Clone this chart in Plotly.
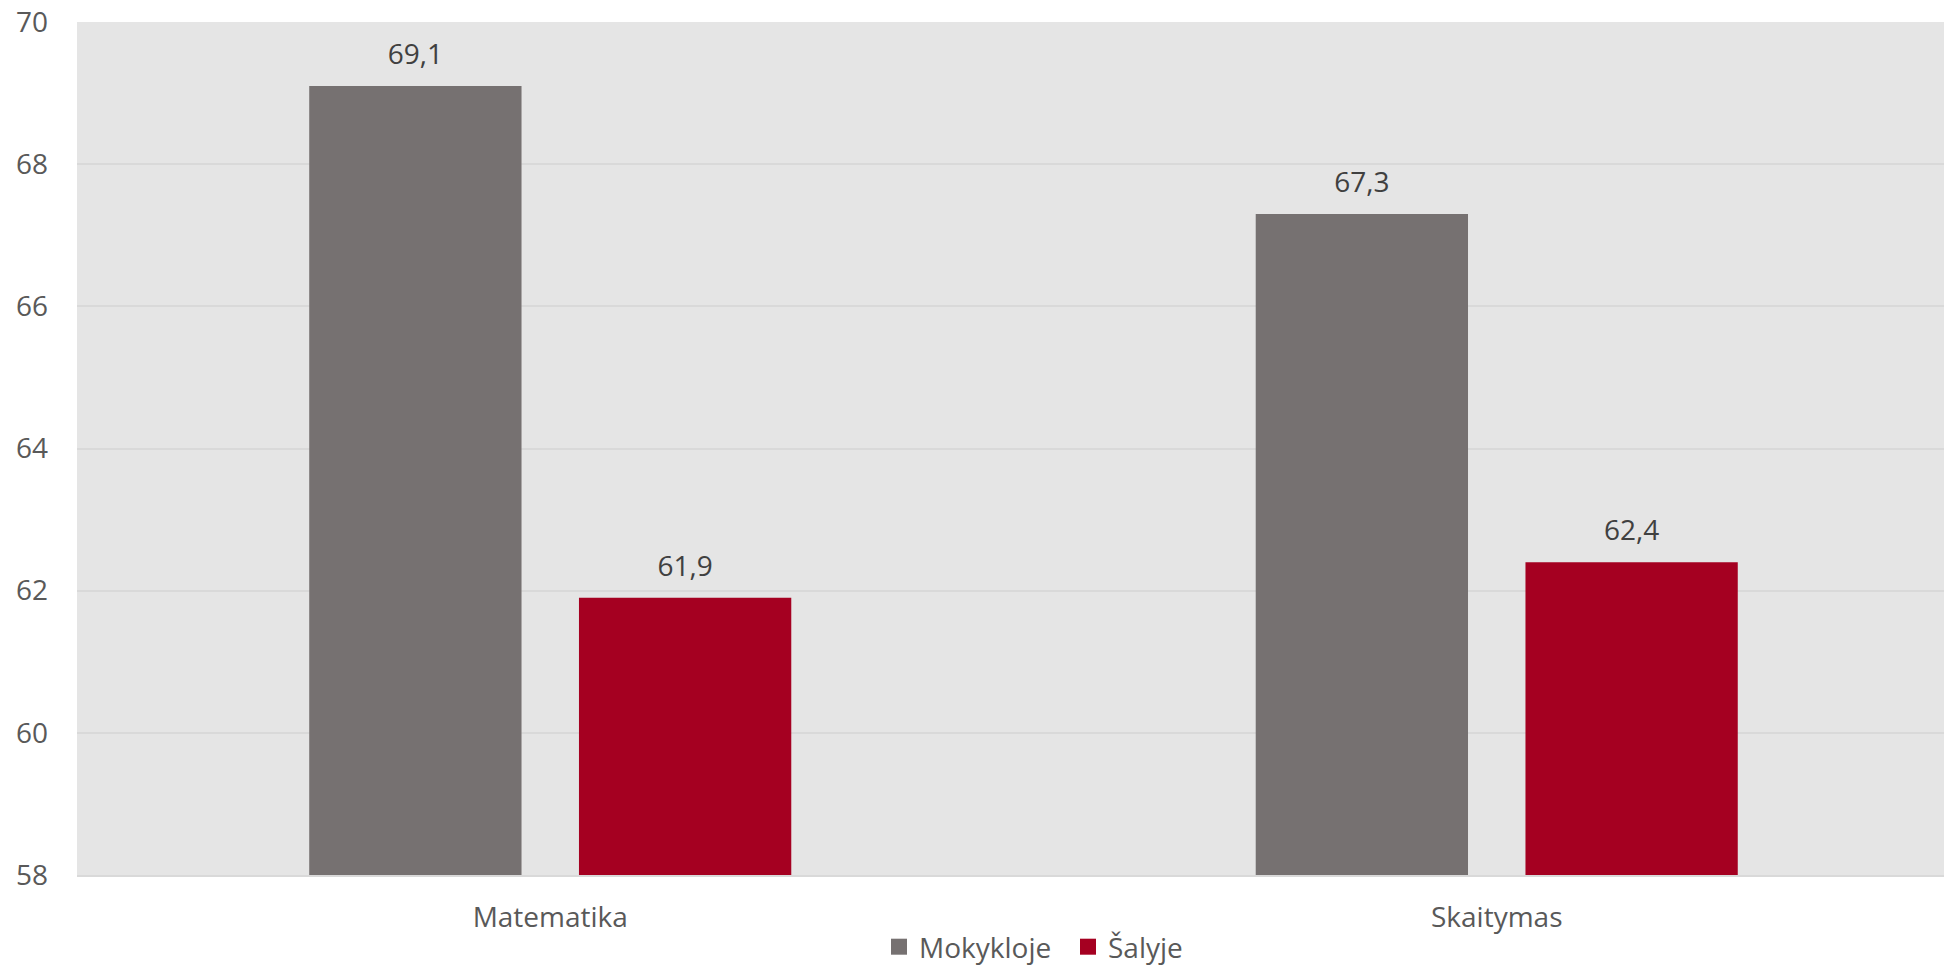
import plotly.graph_objects as go

categories = ["Matematika", "Skaitymas"]
series_names = ["Mokykloje", "Šalyje"]
mokykloje = [69.1, 67.3]
salyje = [61.9, 62.4]
y_ticks = [58, 60, 62, 64, 66, 68, 70]

colors = ["#767171", "#A50021"]
FONT = "Open Sans"
GAP = 0.43
W, H = 1944, 957  # page body has an 8px margin

fig = go.Figure()
for name, vals, col in zip(series_names, [mokykloje, salyje], colors):
    fig.add_trace(go.Bar(
        x=categories, y=vals, name=name, marker=dict(color=col, line=dict(width=0)),
        showlegend=False, hoverinfo="x+y",
    ))
# value labels, grouped like the bars
for name, vals in zip(series_names, [mokykloje, salyje]):
    fig.add_trace(go.Scatter(
        x=categories, y=vals, mode="markers+text", name=name,
        texttemplate="%{y:.1f}", textposition="top center", cliponaxis=False,
        textfont=dict(family=FONT, size=28, color="#404040"),
        marker=dict(size=22, color="rgba(0,0,0,0)"),
        showlegend=False, hoverinfo="skip",
    ))
# legend proxies (square swatches) on hidden overlay axes
for name, col in zip(series_names, colors):
    fig.add_trace(go.Scatter(
        x=[None], y=[None], mode="markers", name=name, xaxis="x2", yaxis="y2",
        marker=dict(symbol="square", size=16, color=col),
    ))

fig.update_layout(
    width=W, height=H,
    margin=dict(l=69, r=0, t=14, b=90, pad=0),
    paper_bgcolor="white", plot_bgcolor="#E5E5E5",
    separators=", ",
    barmode="group", bargap=GAP, bargroupgap=0.213,
    scattermode="group", scattergap=GAP,
    font=dict(family=FONT, size=28, color="#595959"),
    xaxis=dict(range=[-0.5, 1.481], showgrid=False, showline=True, linecolor="#D9D9D9",
               linewidth=2, ticks="", tickfont=dict(size=28, color="#595959"),
               ticklabelstandoff=16, fixedrange=True, automargin=False),
    yaxis=dict(range=[58, 70], tickvals=y_ticks, showgrid=True, gridcolor="#D9D9D9",
               gridwidth=2, zeroline=False, showline=False, ticks="",
               tickfont=dict(size=28, color="#595959"), ticklabelstandoff=28,
               ticklabeloverflow="allow", automargin=False),
    xaxis2=dict(overlaying="x", visible=False, range=[0, 1]),
    yaxis2=dict(overlaying="y", visible=False, range=[0, 1]),
    legend=dict(orientation="h", xref="container", yref="container",
                x=871 / W, xanchor="left", y=(H - 939) / H, yanchor="middle",
                font=dict(size=28, color="#595959"), itemsizing="trace",
                bgcolor="rgba(0,0,0,0)", tracegroupgap=0, itemwidth=30,
                entrywidth=144),
)

fig.write_html("out.html")
